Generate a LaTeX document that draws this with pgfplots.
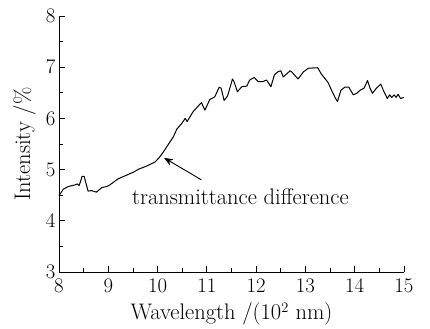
\documentclass[border=0pt]{standalone}
\usepackage{pgfplots}
\pgfplotsset{compat=1.18}
\usetikzlibrary{arrows.meta}
\pgfplotstableread{
x y
8.00 4.49
8.09 4.62
8.19 4.67
8.32 4.70
8.37 4.72
8.41 4.69
8.47 4.87
8.51 4.87
8.59 4.58
8.66 4.59
8.76 4.56
8.87 4.65
8.97 4.67
9.03 4.70
9.20 4.82
9.51 4.95
9.62 5.01
9.78 5.07
9.95 5.15
10.03 5.23
10.12 5.35
10.32 5.64
10.39 5.79
10.49 5.90
10.56 6.00
10.60 5.94
10.72 6.13
10.89 6.31
10.96 6.16
11.06 6.37
11.16 6.42
11.25 6.61
11.29 6.59
11.35 6.35
11.42 6.44
11.52 6.77
11.55 6.72
11.62 6.52
11.71 6.62
11.81 6.63
11.87 6.75
11.96 6.80
12.04 6.72
12.14 6.72
12.21 6.75
12.30 6.62
12.37 6.85
12.44 6.91
12.50 6.93
12.55 6.81
12.69 6.93
12.73 6.90
12.85 6.77
12.96 6.91
13.06 6.98
13.25 6.99
13.32 6.87
13.46 6.70
13.53 6.55
13.60 6.41
13.65 6.33
13.72 6.55
13.80 6.61
13.88 6.61
13.97 6.46
14.04 6.49
14.11 6.55
14.19 6.59
14.26 6.74
14.31 6.59
14.36 6.49
14.44 6.59
14.53 6.67
14.58 6.55
14.66 6.39
14.71 6.46
14.75 6.41
14.80 6.46
14.84 6.41
14.88 6.47
14.93 6.39
15.00 6.41
}\datatable
\begin{document}
\begin{tikzpicture}[font=\fontsize{20}{24}\selectfont]
\begin{axis}[
  scale only axis,
  width=345pt, height=256pt,
  xmin=8, xmax=15, ymin=3, ymax=8,
  axis lines=left,
  axis line style={-, line width=0.8pt},
  tick align=inside,
  tick style={black, line width=0.8pt},
  major tick length=6pt,
  minor tick length=4pt,
  xtick={8,...,15}, ytick={3,...,8},
  minor xtick={8.5,9.5,...,14.5},
  minor ytick={3.5,4.5,...,7.5},
  xticklabel style={yshift=-4pt},
  xlabel={Wavelength /(10$^2$ nm)},
  ylabel={Intensity /\%},
  xlabel style={at={(axis description cs:0.5,-0.165)}, anchor=center, font=\fontsize{22.5}{26}\selectfont},
  ylabel style={at={(axis description cs:-0.1,0.5)}, anchor=center, font=\fontsize{22.5}{26}\selectfont},
  clip=false,
]
\addplot[black, line width=1pt, line join=round] table[x=x, y=y] {\datatable};
\draw[line width=0.9pt, -{Stealth[length=9pt, width=7pt]}] (axis cs:10.89,4.80) -- (axis cs:10.13,5.23);
\node[font=\fontsize{22.5}{26}\selectfont] at (axis cs:11.68,4.48) {transmittance difference};
\path (rel axis cs:1,1) ++(26pt,16pt);
\path (rel axis cs:0,0) ++(-59pt,-56pt);
\end{axis}
\end{tikzpicture}
\end{document}
